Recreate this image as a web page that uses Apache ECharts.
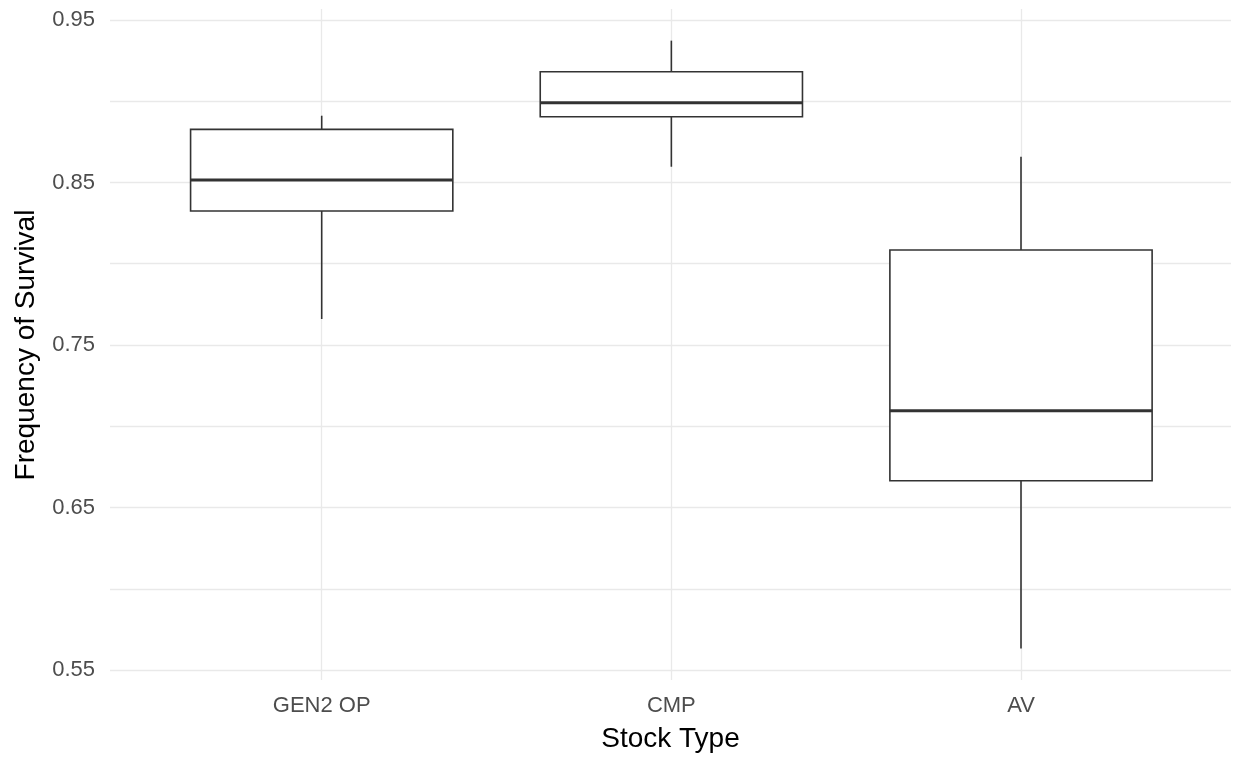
<!DOCTYPE html>
<html>
<head>
<meta charset="utf-8">
<style>
  html, body { margin: 0; padding: 0; background: #ffffff; }
  #chart { width: 1235px; height: 762px; }
</style>
<script src="https://cdn.jsdelivr.net/npm/echarts@6/dist/echarts.min.js"></script>
</head>
<body>
<div id="chart"></div>
<script>
// ---- data ----
const categories = ['GEN2 OP', 'CMP', 'AV'];
const whiskerLow  = [0.766,  0.8597, 0.5633];
const quartile1   = [0.8325, 0.8905, 0.6665];
const medians     = [0.8515, 0.8991, 0.7096];
const quartile3   = [0.8827, 0.9182, 0.8085];
const whiskerHigh = [0.8911, 0.9373, 0.8659];
const yTickLabels = ['0.55', '0.65', '0.75', '0.85', '0.95'];
const xTitle = 'Stock Type';
const yTitle = 'Frequency of Survival';

const boxData = categories.map((c, i) => [i, whiskerLow[i], quartile1[i], medians[i], quartile3[i], whiskerHigh[i]]);

const FONT = "'Liberation Sans', Arial, sans-serif";
const GRID_COLOR = '#E9E9E9';
const LINE_COLOR = '#333333';

const chart = echarts.init(document.getElementById('chart'), null, { renderer: 'canvas' });

// pixel frame of the panel (ggplot style)
const panelTop = 9, panelBottom = 680;       // px
const tickTop = 20, tickBottom = 670;        // 0.95 and 0.55 positions
const yMaxTick = 0.95, yMinTick = 0.55;
const pxPerUnit = (tickBottom - tickTop) / (yMaxTick - yMinTick);
const yMaxPanel = yMaxTick + (tickTop - panelTop) / pxPerUnit;
const yMinPanel = yMinTick - (panelBottom - tickBottom) / pxPerUnit;

const catCenterFirst = 321.7, catCenterLast = 1021;
const band = (catCenterLast - catCenterFirst) / (categories.length - 1);

const option = {
  backgroundColor: '#ffffff',
  animation: false,
  grid: [
    // 0: boxes + x labels
    { left: catCenterFirst - band / 2, right: 1235 - (catCenterLast + band / 2), top: panelTop, bottom: 762 - panelBottom, containLabel: false },
    // 1: y labels + horizontal grid lines
    { left: 110, right: 4, top: tickTop, bottom: 762 - tickBottom, containLabel: false },
    // 2: vertical grid lines
    { left: catCenterFirst, right: 1235 - catCenterLast, top: panelTop, bottom: 762 - panelBottom, containLabel: false }
  ],
  xAxis: [
    {
      gridIndex: 0, type: 'category', data: categories, boundaryGap: true,
      axisLine: { show: false }, axisTick: { show: false }, splitLine: { show: false },
      axisLabel: { color: '#4D4D4D', fontSize: 22, fontFamily: FONT, margin: 15 }
    },
    {
      gridIndex: 1, type: 'value', min: 0, max: 1,
      axisLine: { show: false }, axisTick: { show: false }, axisLabel: { show: false }, splitLine: { show: false },
      name: xTitle, nameLocation: 'middle', nameGap: 55,
      nameTextStyle: { color: '#000000', fontSize: 28, fontFamily: FONT }
    },
    {
      gridIndex: 2, type: 'category', data: categories, boundaryGap: false,
      axisLine: { show: false }, axisTick: { show: false }, axisLabel: { show: false },
      splitLine: { show: true, lineStyle: { color: GRID_COLOR, width: 1.3 } }
    }
  ],
  yAxis: [
    { gridIndex: 0, type: 'value', min: yMinPanel, max: yMaxPanel, show: false },
    {
      gridIndex: 1, type: 'value', min: yMinTick, max: yMaxTick, interval: 0.05,
      axisLine: { show: false }, axisTick: { show: false },
      splitLine: { show: true, lineStyle: { color: GRID_COLOR, width: 1.3 } },
      axisLabel: {
        color: '#4D4D4D', fontSize: 22, fontFamily: FONT, margin: 15,
        formatter: function (v) {
          const s = v.toFixed(2);
          return yTickLabels.indexOf(s) >= 0 ? s : '';
        }
      },
      name: yTitle, nameLocation: 'middle', nameGap: 70,
      nameTextStyle: { color: '#000000', fontSize: 28, fontFamily: FONT }
    },
    { gridIndex: 2, type: 'value', min: 0, max: 1, show: false }
  ],
  series: [
    {
      type: 'custom',
      xAxisIndex: 0, yAxisIndex: 0,
      z: 5,
      data: boxData,
      encode: { x: 0, y: [1, 2, 3, 4, 5] },
      renderItem: function (params, api) {
        const x = api.value(0);
        const pLow = api.coord([x, api.value(1)]);
        const pQ1 = api.coord([x, api.value(2)]);
        const pMed = api.coord([x, api.value(3)]);
        const pQ3 = api.coord([x, api.value(4)]);
        const pHigh = api.coord([x, api.value(5)]);
        const half = api.size([1, 0])[0] * 0.75 / 2;
        const cx = pMed[0];
        const stroke = { stroke: LINE_COLOR, lineWidth: 1.6, fill: null };
        return {
          type: 'group',
          children: [
            { type: 'line', shape: { x1: cx, y1: pHigh[1], x2: cx, y2: pQ3[1] }, style: stroke },
            { type: 'line', shape: { x1: cx, y1: pQ1[1], x2: cx, y2: pLow[1] }, style: stroke },
            { type: 'rect', shape: { x: cx - half, y: pQ3[1], width: 2 * half, height: pQ1[1] - pQ3[1] },
              style: { fill: '#ffffff', stroke: LINE_COLOR, lineWidth: 1.6 } },
            { type: 'line', shape: { x1: cx - half, y1: pMed[1], x2: cx + half, y2: pMed[1] },
              style: { stroke: LINE_COLOR, lineWidth: 3 } }
          ]
        };
      }
    }
  ]
};

chart.setOption(option);
</script>
</body>
</html>
